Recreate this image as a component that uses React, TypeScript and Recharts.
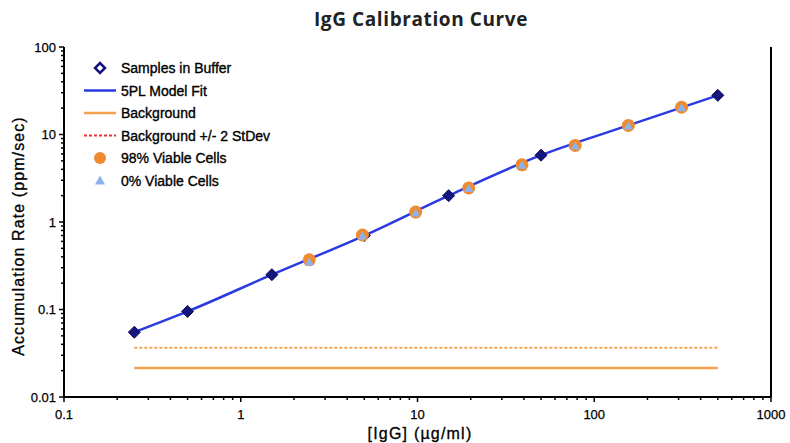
import React from "react"
import { ComposedChart, Line, Scatter, XAxis, YAxis } from "recharts"

// IgG concentrations (ug/ml) and accumulation rates (ppm/sec)
const bufferConc = [0.25, 0.5, 1.5, 5, 15, 50, 500]
const bufferRate = [0.055, 0.095, 0.25, 0.7, 2.0, 5.8, 28]

const cellConc = [2.44, 4.88, 9.77, 19.5, 39, 78, 156, 312]
const viable98Rate = [0.37, 0.71, 1.3, 2.45, 4.5, 7.5, 12.7, 20.5]
const viable0Rate = [0.35, 0.69, 1.27, 2.42, 4.45, 7.4, 12.5, 20.2]

const fitConc = [0.25, 0.5, 1.5, 5, 15, 50, 150, 500]
const fitRate = [0.055, 0.095, 0.25, 0.7, 2.0, 5.8, 12.4, 28]

const bgConc = [0.25, 500]
const bgRate = [0.0215, 0.0215]
const bg2sdRate = [0.0366, 0.0366]

const xMajor = [0.1, 1, 10, 100, 1000]
const yMajor = [0.01, 0.1, 1, 10, 100]

const legendItems = [
  "Samples in Buffer",
  "5PL Model Fit",
  "Background",
  "Background +/- 2 StDev",
  "98% Viable Cells",
  "0% Viable Cells",
]

const NAVY = "#15157e"
const BLUE = "#2a3ae0"
const ORANGE = "#f5a04c"
const CIRCLE = "#ef8a30"
const TRI = "#8db3ef"
const FONT = "'Liberation Sans', Arial, sans-serif"

const pts = (xs: number[], ys: number[]) => xs.map((x, i) => ({ x, y: ys[i] }))

const withMinor = (majors: number[]) => {
  const out: number[] = []
  majors.forEach((m, i) => {
    out.push(m)
    if (i < majors.length - 1) for (let k = 2; k <= 9; k++) out.push(m * k)
  })
  return out
}

const isMajor = (v: number) => {
  const l = Math.log10(v)
  return Math.abs(l - Math.round(l)) < 1e-6
}

const XTick = (props: any) => {
  const { x, y, payload } = props
  const major = isMajor(payload.value)
  return (
    <g>
      <line x1={x} y1={y} x2={x} y2={y + (major ? 5 : 3)} stroke="#000" strokeWidth={1.5} />
      {major && (
        <text x={x} y={y + 22} textAnchor="middle" fontSize={13} fill="#000" stroke="#000" strokeWidth={0.25} fontFamily={FONT}>
          {String(payload.value)}
        </text>
      )}
    </g>
  )
}

const YTick = (props: any) => {
  const { x, y, payload } = props
  const major = isMajor(payload.value)
  return (
    <g>
      <line x1={x} y1={y} x2={x - (major ? 5 : 3)} y2={y} stroke="#000" strokeWidth={1.5} />
      {major && (
        <text x={x - 8} y={y + 4.5} textAnchor="end" fontSize={13} fill="#000" stroke="#000" strokeWidth={0.25} fontFamily={FONT}>
          {String(payload.value)}
        </text>
      )}
    </g>
  )
}

const Diamond = (props: any) => {
  const { cx, cy } = props
  const s = 6
  return (
    <polygon
      points={`${cx},${cy - s} ${cx + s},${cy} ${cx},${cy + s} ${cx - s},${cy}`}
      fill={NAVY}
      stroke="#0b0b55"
      strokeWidth={1}
      strokeLinejoin="round"
    />
  )
}

const Dot = (props: any) => <circle cx={props.cx} cy={props.cy} r={6.5} fill={CIRCLE} />

const Tri = (props: any) => {
  const { cx, cy } = props
  return (
    <polygon
      points={`${cx},${cy - 4.5} ${cx + 4.5},${cy + 3.5} ${cx - 4.5},${cy + 3.5}`}
      fill={TRI}
    />
  )
}

function LegendBox() {
  const x0 = 84
  const x1 = 116
  const tx = 121
  const rows = [68, 90.5, 113, 135.5, 158, 180.5]
  return (
    <g fontFamily={FONT} fontSize={14} fill="#000">
      <polygon
        points={`100,${rows[0] - 5} 105,${rows[0]} 100,${rows[0] + 5} 95,${rows[0]}`}
        fill="#fff"
        stroke={NAVY}
        strokeWidth={2.5}
      />
      <line x1={x0} y1={rows[1]} x2={x1} y2={rows[1]} stroke={BLUE} strokeWidth={2.5} />
      <line x1={x0} y1={rows[2]} x2={x1} y2={rows[2]} stroke={ORANGE} strokeWidth={2.5} />
      <line x1={x0} y1={rows[3]} x2={x1} y2={rows[3]} stroke="#f03030" strokeWidth={2} strokeDasharray="3 2" />
      <circle cx={100} cy={rows[4]} r={6} fill={CIRCLE} />
      <polygon points={`100,${rows[5] - 5} 105,${rows[5] + 4} 95,${rows[5] + 4}`} fill={TRI} />
      {legendItems.map((t, i) => (
        <text key={t} x={tx} y={rows[i] + 5} stroke="#000" strokeWidth={0.35}>
          {t}
        </text>
      ))}
    </g>
  )
}

export default function App() {
  const xTicks = withMinor(xMajor)
  const yTicks = withMinor(yMajor)
  return (
    <div style={{ position: "absolute", left: 0, top: 0, width: 790, height: 443, background: "#fff" }}>
      <ComposedChart width={790} height={443} margin={{ top: 47, right: 18, bottom: 0, left: 0 }}>
        <XAxis
          dataKey="x"
          type="number"
          scale="log"
          domain={[0.1, 1000]}
          ticks={xTicks}
          interval={0}
          allowDataOverflow
          tick={<XTick />}
          tickLine={false}
          tickSize={0}
          tickMargin={0}
          height={46}
          axisLine={{ stroke: "#000", strokeWidth: 2 }}
          label={{
            content: () => (
              <text
                x={420}
                y={439}
                textAnchor="middle"
                fontSize={16}
                letterSpacing={1.2}
                fill="#000"
                stroke="#000"
                strokeWidth={0.3}
                fontFamily={FONT}
              >
                [IgG] (µg/ml)
              </text>
            ),
          }}
        />
        <XAxis
          xAxisId="top"
          orientation="top"
          type="number"
          domain={[0, 1]}
          tick={false}
          tickLine={false}
          height={0}
          axisLine={{ stroke: "#000", strokeWidth: 2 }}
        />
        <YAxis
          dataKey="y"
          type="number"
          scale="log"
          domain={[0.01, 100]}
          ticks={yTicks}
          interval={0}
          allowDataOverflow
          tick={<YTick />}
          tickLine={false}
          tickSize={0}
          tickMargin={0}
          width={64}
          axisLine={{ stroke: "#000", strokeWidth: 2 }}
          label={{
            content: () => (
              <text
                x={18}
                y={236}
                transform="rotate(-90 18 236)"
                textAnchor="middle"
                dominantBaseline="central"
                fontSize={16}
                letterSpacing={1.1}
                fill="#000"
                stroke="#000"
                strokeWidth={0.3}
                fontFamily={FONT}
              >
                Accumulation Rate (ppm/sec)
              </text>
            ),
          }}
        />
        <YAxis
          yAxisId="right"
          orientation="right"
          type="number"
          domain={[0, 1]}
          tick={false}
          tickLine={false}
          width={1}
          axisLine={{ stroke: "#000", strokeWidth: 2 }}
        />
        <Line
          data={pts(fitConc, fitRate)}
          dataKey="y"
          type="monotone"
          stroke={BLUE}
          strokeWidth={2.5}
          dot={false}
          activeDot={false}
          isAnimationActive={false}
        />
        <Line
          data={pts(bgConc, bg2sdRate)}
          dataKey="y"
          type="linear"
          stroke={ORANGE}
          strokeWidth={2}
          strokeDasharray="3 2"
          dot={false}
          activeDot={false}
          isAnimationActive={false}
        />
        <Line
          data={pts(bgConc, bgRate)}
          dataKey="y"
          type="linear"
          stroke={ORANGE}
          strokeWidth={2.5}
          dot={false}
          activeDot={false}
          isAnimationActive={false}
        />
        <Scatter data={pts(bufferConc, bufferRate)} dataKey="y" shape={<Diamond />} isAnimationActive={false} />
        <Scatter data={pts(cellConc, viable98Rate)} dataKey="y" shape={<Dot />} isAnimationActive={false} />
        <Scatter data={pts(cellConc, viable0Rate)} dataKey="y" shape={<Tri />} isAnimationActive={false} />
      </ComposedChart>
      <svg width={790} height={443} style={{ position: "absolute", left: 0, top: 0, pointerEvents: "none" }}>
        <text
          x={421}
          y={26}
          textAnchor="middle"
          fontSize={19}
          letterSpacing={0.6}
          fontWeight="bold"
          fill="#222"
          fontFamily="'Open Sans', 'DejaVu Sans', sans-serif"
        >
          IgG Calibration Curve
        </text>
        <LegendBox />
      </svg>
    </div>
  )
}
